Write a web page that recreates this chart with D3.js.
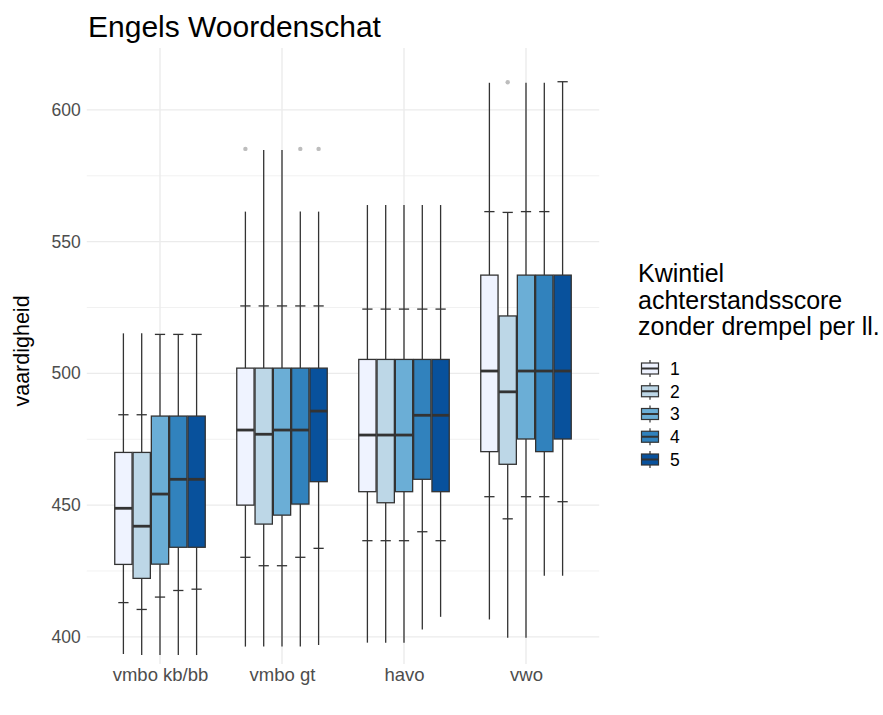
<!DOCTYPE html>
<html>
<head>
<meta charset="utf-8">
<script src="https://cdn.jsdelivr.net/npm/d3@7"></script>
<style>
  html, body { margin: 0; padding: 0; background: #ffffff; }
  svg { display: block; font-family: "Liberation Sans", Arial, Helvetica, sans-serif; }
</style>
</head>
<body>
<svg id="chart" width="883" height="715"></svg>
<script>
// Schooltypes on the x axis and the five quintiles of the disadvantage score
const schoolTypes = ["vmbo kb/bb", "vmbo gt", "havo", "vwo"];
const quintiles = ["1", "2", "3", "4", "5"];
const quintileColors = ["#eff3ff", "#bdd7e7", "#6baed6", "#3182bd", "#08519c"];

// Per schooltype, one entry per quintile:
// [whisker low, lower tick, Q1, median, Q3, upper tick, whisker high]
const statsVmboKb = [
  [393.5, 413.0, 427.5, 448.8, 470.0, 484.3, 515.2],
  [393.1, 410.4, 422.2, 442.0, 470.0, 484.3, 515.2],
  [393.1, 415.1, 427.6, 454.2, 483.8, 514.8, 514.8],
  [393.1, 417.6, 434.0, 459.8, 483.8, 514.8, 514.8],
  [393.1, 418.1, 434.0, 459.8, 483.8, 514.8, 514.8]
];
const statsVmboGt = [
  [396.3, 430.2, 450.0, 478.5, 502.0, 525.6, 561.4],
  [396.3, 427.0, 442.8, 476.9, 502.0, 525.6, 584.8],
  [396.3, 427.0, 446.2, 478.5, 502.0, 525.6, 584.8],
  [396.3, 430.2, 450.4, 478.5, 502.0, 525.6, 561.4],
  [396.9, 433.6, 458.9, 485.7, 502.0, 525.6, 561.4]
];
const statsHavo = [
  [397.8, 436.5, 455.1, 476.6, 505.3, 524.4, 563.9],
  [397.8, 436.5, 450.9, 476.6, 505.3, 524.4, 563.9],
  [397.8, 436.5, 455.1, 476.6, 505.3, 524.4, 563.9],
  [402.8, 439.9, 459.8, 484.1, 505.3, 524.4, 563.9],
  [407.6, 436.5, 455.1, 484.1, 505.3, 524.4, 563.9]
];
const statsVwo = [
  [406.6, 453.2, 470.3, 500.9, 537.3, 561.4, 610.3],
  [399.7, 444.8, 465.5, 493.0, 521.8, 561.1, 561.1],
  [399.7, 453.2, 475.1, 500.9, 537.3, 561.4, 610.3],
  [423.2, 453.2, 470.3, 500.9, 537.3, 561.4, 610.3],
  [423.2, 451.3, 475.1, 500.9, 537.3, 610.7, 610.7]
];
// Outlying values: [schooltype, quintile, value]
const outliers = [
  ["vmbo gt", "1", 585.2],
  ["vmbo gt", "4", 585.2],
  ["vmbo gt", "5", 585.2],
  ["vwo", "2", 610.5]
];
const yTicks = [400, 450, 500, 550, 600];
const yMinorTicks = [425, 475, 525, 575];

const titleText = "Engels Woordenschat";
const yTitle = "vaardigheid";
const legendTitle = ["Kwintiel", "achterstandsscore", "zonder drempel per ll."];

// Long-format table built from the arrays above
const statsBySchool = [statsVmboKb, statsVmboGt, statsHavo, statsVwo];
const rows = [];
schoolTypes.forEach((s, i) => {
  statsBySchool[i].forEach((v, j) => {
    rows.push({
      school: s, q: quintiles[j],
      lo: v[0], tlo: v[1], q1: v[2], med: v[3], q3: v[4], thi: v[5], hi: v[6]
    });
  });
});

const svg = d3.select("#chart");
const panel = { left: 86.8, right: 599.2, top: 48, bottom: 664 };

const x = d3.scalePoint().domain(schoolTypes)
  .range([panel.left, panel.right]).padding(0.6);
const step = x.step();
const xSub = d3.scaleBand().domain(quintiles)
  .range([-0.375 * step, 0.375 * step]);
const bw = xSub.bandwidth();
const y = d3.scaleLinear().domain([389.7, 623.5]).range([panel.bottom, panel.top]);
const color = d3.scaleOrdinal().domain(quintiles).range(quintileColors);

// Grid
const grid = svg.append("g");
grid.selectAll("line.minor").data(yMinorTicks).join("line")
  .attr("x1", panel.left).attr("x2", panel.right)
  .attr("y1", d => y(d)).attr("y2", d => y(d))
  .attr("stroke", "#ebebeb").attr("stroke-width", 0.7);
grid.selectAll("line.major").data(yTicks).join("line")
  .attr("x1", panel.left).attr("x2", panel.right)
  .attr("y1", d => y(d)).attr("y2", d => y(d))
  .attr("stroke", "#ebebeb").attr("stroke-width", 1.4);
grid.selectAll("line.vmajor").data(schoolTypes).join("line")
  .attr("x1", d => x(d)).attr("x2", d => x(d))
  .attr("y1", panel.top).attr("y2", panel.bottom)
  .attr("stroke", "#ebebeb").attr("stroke-width", 1.4);

// Axes (text only)
const yAxis = svg.append("g")
  .attr("transform", `translate(${panel.left - 6},0)`)
  .call(d3.axisLeft(y).tickValues(yTicks).tickSize(0).tickPadding(0));
yAxis.select(".domain").remove();
yAxis.selectAll("text").attr("fill", "#4d4d4d")
  .style("font-size", "17.5px").style("font-family", "inherit");

const xAxis = svg.append("g")
  .attr("transform", `translate(0,${panel.bottom + 4})`)
  .call(d3.axisBottom(x).tickSize(0).tickPadding(0));
xAxis.select(".domain").remove();
xAxis.selectAll("text").attr("fill", "#4d4d4d")
  .style("font-size", "18.5px").style("font-family", "inherit");

// Boxes
const stroke = "#333333";
const boxes = svg.append("g").selectAll("g").data(rows).join("g")
  .attr("transform", d => `translate(${x(d.school) + xSub(d.q)},0)`);

boxes.append("line") // lower whisker
  .attr("x1", bw / 2).attr("x2", bw / 2)
  .attr("y1", d => y(d.lo)).attr("y2", d => y(d.q1))
  .attr("stroke", stroke).attr("stroke-width", 1.3);
boxes.append("line") // upper whisker
  .attr("x1", bw / 2).attr("x2", bw / 2)
  .attr("y1", d => y(d.q3)).attr("y2", d => y(d.hi))
  .attr("stroke", stroke).attr("stroke-width", 1.3);
const tw = bw * 0.56;
boxes.append("line") // lower tick
  .attr("x1", (bw - tw) / 2).attr("x2", (bw + tw) / 2)
  .attr("y1", d => y(d.tlo)).attr("y2", d => y(d.tlo))
  .attr("stroke", stroke).attr("stroke-width", 1.3);
boxes.append("line") // upper tick
  .attr("x1", (bw - tw) / 2).attr("x2", (bw + tw) / 2)
  .attr("y1", d => y(d.thi)).attr("y2", d => y(d.thi))
  .attr("stroke", stroke).attr("stroke-width", 1.3);
boxes.append("rect")
  .attr("x", 0.5).attr("width", bw - 1)
  .attr("y", d => y(d.q3)).attr("height", d => y(d.q1) - y(d.q3))
  .attr("fill", d => color(d.q))
  .attr("stroke", stroke).attr("stroke-width", 1.3);
boxes.append("line") // median
  .attr("x1", 0.5).attr("x2", bw - 0.5)
  .attr("y1", d => y(d.med)).attr("y2", d => y(d.med))
  .attr("stroke", stroke).attr("stroke-width", 2.8);

// Outliers
svg.append("g").selectAll("circle").data(outliers).join("circle")
  .attr("cx", d => x(d[0]) + xSub(d[1]) + bw / 2)
  .attr("cy", d => y(d[2]))
  .attr("r", 2.2)
  .attr("fill", "#bdbdbd");

// Title and axis title
svg.append("text").attr("x", 88).attr("y", 37)
  .style("font-size", "30px").attr("fill", "#000").text(titleText);
svg.append("text")
  .attr("transform", `translate(29,351) rotate(-90)`)
  .attr("text-anchor", "middle")
  .style("font-size", "21.5px").attr("fill", "#000").text(yTitle);

// Legend
const legend = svg.append("g");
legend.selectAll("text.title").data(legendTitle).join("text")
  .attr("x", 638).attr("y", (d, i) => 282 + i * 26.5)
  .style("font-size", "25px").attr("fill", "#000").text(d => d);

const keyY = d3.scalePoint().domain(quintiles).range([368.5, 459.5]);
const keys = legend.selectAll("g.key").data(quintiles).join("g")
  .attr("transform", d => `translate(650,${keyY(d)})`);
keys.append("line").attr("x1", 0).attr("x2", 0).attr("y1", -8.5).attr("y2", 8.5)
  .attr("stroke", stroke).attr("stroke-width", 1.2);
keys.append("rect").attr("x", -8.5).attr("y", -5.5).attr("width", 17).attr("height", 11)
  .attr("fill", d => color(d)).attr("stroke", stroke).attr("stroke-width", 1.2);
keys.append("line").attr("x1", -8.5).attr("x2", 8.5).attr("y1", 0).attr("y2", 0)
  .attr("stroke", stroke).attr("stroke-width", 2);
keys.append("text").attr("x", 20).attr("y", 0).attr("dy", "0.36em")
  .style("font-size", "17.5px").attr("fill", "#000").text(d => d);
</script>
</body>
</html>
